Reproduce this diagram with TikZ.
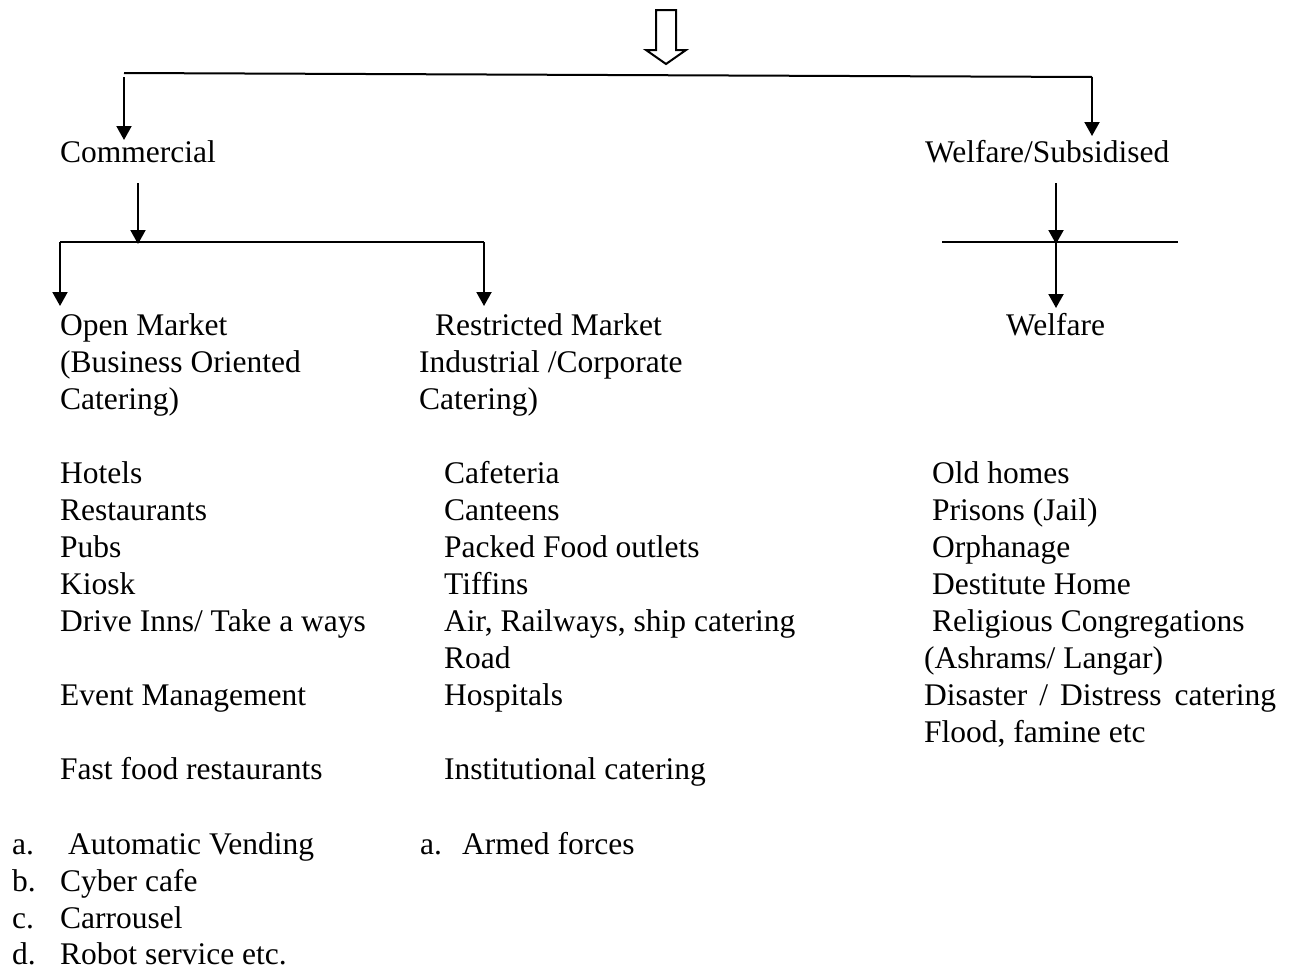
\documentclass[tikz,border=0pt]{standalone}
\usepackage{fontspec}
\setmainfont{Liberation Serif}
\usetikzlibrary{arrows.meta}
\begin{document}
\begin{tikzpicture}[x=1pt,y=-1pt,
  txt/.style={anchor=base west,inner sep=0pt,font=\fontsize{31.5}{37}\selectfont},
  ln/.style={line width=2pt},
  arr/.style={line width=2pt,-{Triangle[length=14pt,width=15pt]}},
  hollow/.style={line width=2pt,fill=white,line join=miter}]
\useasboundingbox (0,0) rectangle (1289,969);
% hollow arrow
\coordinate (ha) at (666,10);
\draw[hollow] (656,10) -- (676,10) -- (676,50) -- (686,50) -- (666,64) -- (646,50) -- (656,50) -- cycle;
% top branch
\coordinate (tl) at (124,73);
\coordinate (tr) at (1092,77);
\coordinate (tla) at (124,77);
\coordinate (tle) at (124,140);
\coordinate (tre) at (1092,136);
\draw[ln] (tl) -- (tr);
\draw[arr] (tla) -- (tle);
\draw[arr] (tr) -- (tre);
% level 1
\node[txt] (comm) at (60,162) {Commercial};
\node[txt] (wsub) at (925,162) {Welfare/Subsidised};
% commercial branch
\coordinate (cs) at (138,183);
\coordinate (cj) at (138,244);
\coordinate (cl) at (60,242);
\coordinate (cr) at (484,242);
\coordinate (cle) at (60,306);
\coordinate (cre) at (484,306);
\draw[arr] (cs) -- (cj);
\draw[ln] (cl) -- (cr);
\draw[arr] (cl) -- (cle);
\draw[arr] (cr) -- (cre);
% welfare branch
\coordinate (ws) at (1056,183);
\coordinate (wj) at (1056,244);
\coordinate (wl) at (942,242);
\coordinate (wr) at (1178,242);
\coordinate (wm) at (1056,242);
\coordinate (we) at (1056,308);
\draw[arr] (ws) -- (wj);
\draw[ln] (wl) -- (wr);
\draw[arr] (wm) -- (we);
% level 2
\node[txt] (om1) at (60,335) {Open Market};
\node[txt] (om2) at (60,372) {(Business Oriented};
\node[txt] (om3) at (60,409) {Catering)};
\node[txt] (rm1) at (435,335) {Restricted Market};
\node[txt] (rm2) at (419,372) {Industrial /Corporate};
\node[txt] (rm3) at (419,409) {Catering)};
\node[txt] (wf) at (1006,335) {Welfare};
% column 1
\node[txt] (a1) at (60,483) {Hotels};
\node[txt] (a2) at (60,520) {Restaurants};
\node[txt] (a3) at (60,557) {Pubs};
\node[txt] (a4) at (60,594) {Kiosk};
\node[txt] (a5) at (60,631) {Drive Inns/ Take a ways};
\node[txt] (a6) at (60,705) {Event Management};
\node[txt] (a7) at (60,779) {Fast food restaurants};
% column 2
\node[txt] (b1) at (444,483) {Cafeteria};
\node[txt] (b2) at (444,520) {Canteens};
\node[txt] (b3) at (444,557) {Packed Food outlets};
\node[txt] (b4) at (444,594) {Tiffins};
\node[txt] (b5) at (444,631) {Air, Railways, ship catering};
\node[txt] (b6) at (444,668) {Road};
\node[txt] (b7) at (444,705) {Hospitals};
\node[txt] (b8) at (444,779) {Institutional catering};
% column 3
\node[txt] (c1) at (932,483) {Old homes};
\node[txt] (c2) at (932,520) {Prisons (Jail)};
\node[txt] (c3) at (932,557) {Orphanage};
\node[txt] (c4) at (932,594) {Destitute Home};
\node[txt] (c5) at (932,631) {Religious Congregations};
\node[txt] (c6) at (924,668) {(Ashrams/ Langar)};
\node[txt] (c7) at (924,705) {Disaster\hspace{12pt}/\hspace{12pt}Distress\hspace{13pt}catering};
\node[txt] (c8) at (924,742) {Flood, famine etc};
% bottom lists
\node[txt] (la) at (12,854) {a.};
\node[txt] (ta) at (68,854) {Automatic Vending};
\node[txt] (lb) at (12,891) {b.};
\node[txt] (tb) at (60,891) {Cyber cafe};
\node[txt] (lc) at (12,928) {c.};
\node[txt] (tc) at (60,928) {Carrousel};
\node[txt] (ld) at (12,964) {d.};
\node[txt] (td) at (60,964) {Robot service etc.};
\node[txt] (la2) at (420,854) {a.};
\node[txt] (ta2) at (462,854) {Armed forces};
\end{tikzpicture}
\end{document}
